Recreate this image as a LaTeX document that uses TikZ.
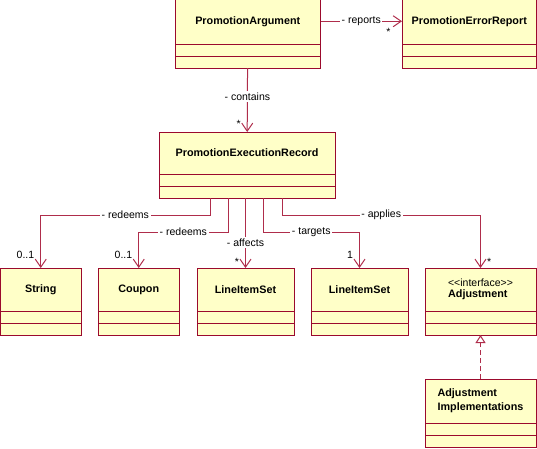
\documentclass[tikz,border=0pt]{standalone}
\usepackage{fontspec}
\setmainfont{Liberation Sans}
\usetikzlibrary{arrows.meta,positioning,calc}
\definecolor{umlred}{RGB}{155,10,45}
\definecolor{umlline}{RGB}{175,45,75}
\definecolor{umlfill}{RGB}{255,255,200}

% one class: name, left, top, right, bottom, title
\newcommand{\umlclass}[6]{%
  \node[classbox, minimum width={(#4-#2)*1pt}, minimum height={(#5-#3)*1pt}] (#1) at ({(#2+#4)/2},{(#3+#5)/2}) {};
  \draw[umlred, line width=1pt] ([yshift=24pt]#1.south west) -- ([yshift=24pt]#1.south east);
  \draw[umlred, line width=1pt] ([yshift=12pt]#1.south west) -- ([yshift=12pt]#1.south east);
  \node[classname] (#1-name) at ($(#1.north)!0.5!([yshift=24pt]#1.south)$) {#6};
}

\begin{document}
\begin{tikzpicture}[x=1pt, y=-1pt,
    classbox/.style={draw=umlred, fill=umlfill, line width=1pt, inner sep=0pt, outer sep=0pt},
    classname/.style={inner sep=0pt, align=left, text=black, font=\fontsize{10.8}{14}\selectfont\bfseries},
    assoc/.style={umlline, line width=1pt, -{Straight Barb[length=8pt, width=11pt]}},
    realize/.style={umlline, line width=1pt, dash pattern=on 5pt off 3pt,
      -{Triangle[open, length=8pt, width=10pt, fill=white]}},
    lbl/.style={fill=white, text=black, inner sep=1.5pt, font=\fontsize{10.5}{12}\selectfont},
    mult/.style={inner sep=0pt, text=black, font=\fontsize{10.5}{12}\selectfont}]
  \useasboundingbox (0,0) rectangle (537,448);

  \umlclass{arg}{175}{-1.5}{320.5}{68}{PromotionArgument}
  \umlclass{err}{402}{-1.5}{536.5}{68}{PromotionErrorReport}
  \umlclass{per}{159}{132}{335}{198}{PromotionExecutionRecord}
  \umlclass{str}{0.5}{268}{81}{335}{String}
  \umlclass{cou}{98.5}{268}{179}{335}{Coupon}
  \umlclass{lis1}{197}{268}{294}{335}{LineItemSet}
  \umlclass{lis2}{311}{268}{408}{335}{LineItemSet}
  \umlclass{adj}{425}{268}{536}{335}{{\mdseries\fontsize{10.5}{12}\selectfont <\kern0pt<interface>\kern0pt>}\\[-3pt]Adjustment}
  \umlclass{impl}{425}{379}{536}{447}{Adjustment\\Implementations}

  % associations
  \draw[assoc] ([yshift=12pt]arg.east) -- node[lbl] (lrep) {- reports}
    node[mult, pos=1, anchor=north east, xshift=-11pt, yshift=-7pt] (mrep) {*} ([yshift=12pt]err.west);
  \draw[assoc] (arg) -- node[lbl, pos=0.45] (lcon) {- contains}
    node[mult, pos=1, anchor=south east, xshift=-6pt, yshift=4pt] (mcon) {*} (per);

  \draw[assoc] ([xshift=-37pt]per.south) -- ++(0,17) -| node[lbl, pos=0.25] (lred1) {- redeems}
    node[mult, pos=1, anchor=base east, xshift=-6pt, yshift=10pt] (mstr) {0..1} (str.north);
  \draw[assoc] ([xshift=-19pt]per.south) -- ++(0,34) -| node[lbl, pos=0.25] (lred2) {- redeems}
    node[mult, pos=1, anchor=base east, xshift=-6pt, yshift=10pt] (mcou) {0..1} (cou.north);
  \draw[assoc] (per.south -| lis1.north) -- node[lbl, pos=0.64] (laff) {- affects}
    node[mult, pos=1, anchor=south east, xshift=-6pt, yshift=2pt] (mlis1) {*} (lis1.north);
  \draw[assoc] ([xshift=16pt]per.south) -- ++(0,34) -| node[lbl, pos=0.25] (ltar) {- targets}
    node[mult, pos=1, anchor=base east, xshift=-6pt, yshift=10pt] (mlis2) {1} (lis2.north);
  \draw[assoc] ([xshift=35pt]per.south) -- ++(0,17) -| node[lbl, pos=0.25] (lapp) {- applies}
    node[mult, pos=1, anchor=south west, xshift=6pt, yshift=2pt] (madj) {*} (adj.north);

  % realization
  \draw[realize] (impl) -- (adj);
\end{tikzpicture}
\end{document}
